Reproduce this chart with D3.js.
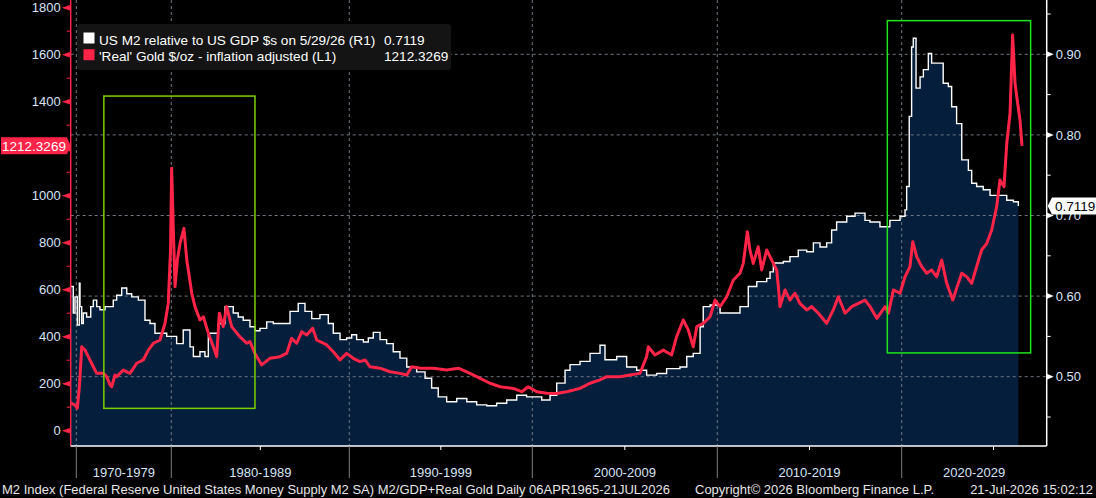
<!DOCTYPE html>
<html>
<head>
<meta charset="utf-8">
<script src="https://cdn.jsdelivr.net/npm/d3@7"></script>
<style>
html, body { margin: 0; padding: 0; background: #000; }
svg { display: block; font-family: "Liberation Sans", Arial, sans-serif; }
</style>
</head>
<body>
<div id="chart"></div>
<script>
// frame of the bloomberg-style chart
const FRAME_WIDTH = 1096;
const FRAME_HEIGHT = 498;
const PLOT = {left: 70.7, right: 1046.7, top: 0, bottom: 446};

// x axis is not linear in time (early data is sparse), so knots per decade
const xKnotYears = [1965.26, 1970, 1980, 1990, 2000, 2010, 2020, 2026.55];
const xKnotPix   = [70.7, 76.3, 171.3, 349.3, 532.3, 717.3, 901.7, 1022];

const decadeBreaks = [1970, 1980, 1990, 2000, 2010, 2020];
const decadeLabels = ["1970-1979", "1980-1989", "1990-1999", "2000-2009", "2010-2019", "2020-2029"];
const halfDecades = [1985, 1995, 2005, 2015, 2025];

const leftTicks = [0, 200, 400, 600, 800, 1000, 1200, 1400, 1600, 1800];
const leftLabelTicks = [0, 200, 400, 600, 800, 1000, 1400, 1600, 1800]; // 1200 sits under the last-value flag
const rightTicks = [0.5, 0.6, 0.7, 0.8, 0.9];

// US M2 / GDP (right axis), quarterly steps
const m2Years = [1965.26, 1966.11, 1967.46, 1968.90, 1970.11, 1970.32, 1970.39, 1970.57, 1970.74, 1971.09,
  1971.52, 1971.79, 1972.15, 1972.49, 1973.02, 1973.55, 1973.89, 1974.25, 1974.78, 1975.31,
  1975.83, 1976.53, 1977.05, 1977.23, 1977.76, 1978.28, 1978.81, 1979.52, 1980.02, 1980.30,
  1980.67, 1980.96, 1981.05, 1981.24, 1981.61, 1981.89, 1982.08, 1982.36, 1982.64, 1983.02,
  1983.30, 1983.48, 1983.76, 1984.04, 1984.42, 1984.70, 1984.98, 1985.36, 1985.73, 1986.29,
  1986.67, 1987.13, 1987.51, 1987.89, 1988.35, 1988.82, 1989.10, 1989.48, 1989.85, 1990.13,
  1990.40, 1990.77, 1991.04, 1991.31, 1991.68, 1992.04, 1992.40, 1992.77, 1993.14, 1993.68,
  1994.14, 1994.50, 1994.86, 1995.32, 1995.87, 1996.42, 1996.96, 1997.51, 1998.05, 1998.60,
  1999.15, 1999.69, 2000.05, 2000.51, 2000.96, 2001.32, 2001.77, 2002.04, 2002.58, 2003.12,
  2003.66, 2003.93, 2004.56, 2005.10, 2005.64, 2006.18, 2006.72, 2007.26, 2007.98, 2008.35,
  2008.70, 2009.07, 2009.24, 2009.61, 2010.15, 2010.87, 2011.23, 2011.68, 2012.14, 2012.68,
  2012.86, 2013.04, 2013.58, 2013.94, 2014.39, 2014.85, 2015.21, 2015.57, 2015.93, 2016.20,
  2016.47, 2017.02, 2017.47, 2017.83, 2018.01, 2018.28, 2018.82, 2019.36, 2019.91, 2020.18,
  2020.27, 2020.41, 2020.54, 2020.63, 2020.78, 2021.00, 2021.18, 2021.45, 2021.63, 2021.99,
  2022.26, 2022.54, 2022.72, 2022.99, 2023.27, 2023.63, 2023.81, 2024.08, 2024.44, 2024.81,
  2025.35, 2025.72, 2026.08, 2026.35];
const m2Ratio = [0.612, 0.612, 0.579, 0.599, 0.564, 0.616, 0.587, 0.566, 0.579, 0.574,
  0.587, 0.595, 0.587, 0.583, 0.587, 0.587, 0.595, 0.601, 0.610, 0.603,
  0.599, 0.595, 0.595, 0.570, 0.566, 0.554, 0.554, 0.550, 0.550, 0.541,
  0.558, 0.558, 0.537, 0.525, 0.531, 0.525, 0.554, 0.554, 0.566, 0.587,
  0.587, 0.579, 0.574, 0.570, 0.562, 0.557, 0.560, 0.568, 0.566, 0.566,
  0.581, 0.591, 0.581, 0.572, 0.577, 0.566, 0.554, 0.546, 0.548, 0.552,
  0.546, 0.543, 0.548, 0.555, 0.546, 0.541, 0.531, 0.523, 0.512, 0.506,
  0.498, 0.486, 0.475, 0.469, 0.473, 0.469, 0.465, 0.464, 0.467, 0.471,
  0.477, 0.475, 0.475, 0.471, 0.477, 0.492, 0.508, 0.515, 0.519, 0.529,
  0.539, 0.521, 0.525, 0.512, 0.508, 0.502, 0.504, 0.510, 0.512, 0.525,
  0.529, 0.562, 0.587, 0.589, 0.579, 0.579, 0.587, 0.612, 0.618, 0.622,
  0.630, 0.641, 0.643, 0.649, 0.657, 0.655, 0.666, 0.661, 0.666, 0.682,
  0.692, 0.699, 0.703, 0.703, 0.694, 0.692, 0.686, 0.694, 0.699, 0.707,
  0.736, 0.823, 0.909, 0.920, 0.858, 0.872, 0.881, 0.901, 0.889, 0.889,
  0.864, 0.860, 0.835, 0.814, 0.769, 0.756, 0.740, 0.736, 0.732, 0.725,
  0.725, 0.719, 0.717, 0.7119];

// 'Real' gold $/oz, inflation adjusted (left axis)
const goldYears = [1965.26, 1966.11, 1968.90, 1970.11, 1970.32, 1970.39, 1970.57, 1970.92, 1971.26, 1971.79,
  1972.15, 1972.49, 1972.84, 1973.20, 1973.55, 1973.73, 1974.07, 1974.25, 1974.60, 1974.95,
  1975.65, 1976.36, 1977.05, 1977.58, 1978.11, 1978.81, 1979.34, 1979.68, 1979.92, 1980.02,
  1980.11, 1980.21, 1980.34, 1980.49, 1980.71, 1980.87, 1981.15, 1981.33, 1981.61, 1981.80,
  1982.08, 1982.36, 1982.55, 1982.70, 1982.92, 1983.11, 1983.39, 1983.86, 1984.24, 1984.42,
  1984.70, 1985.08, 1985.54, 1986.10, 1986.48, 1986.76, 1987.04, 1987.33, 1987.61, 1987.94,
  1988.17, 1988.73, 1989.10, 1989.48, 1989.85, 1990.22, 1990.58, 1990.86, 1991.13, 1991.68,
  1992.22, 1992.77, 1993.14, 1993.41, 1993.87, 1994.59, 1995.32, 1995.96, 1996.60, 1997.15,
  1997.69, 1998.24, 1998.96, 1999.42, 1999.78, 2000.24, 2000.78, 2001.32, 2001.86, 2002.58,
  2003.12, 2003.66, 2004.02, 2004.74, 2005.28, 2005.82, 2006.18, 2006.27, 2006.63, 2007.08,
  2007.53, 2007.80, 2008.16, 2008.43, 2008.70, 2008.89, 2009.24, 2009.61, 2009.88, 2010.15,
  2010.51, 2010.87, 2011.23, 2011.41, 2011.63, 2011.77, 2011.95, 2012.22, 2012.41, 2012.68,
  2012.95, 2013.22, 2013.31, 2013.40, 2013.67, 2013.94, 2014.21, 2014.48, 2014.85, 2015.12,
  2015.48, 2015.93, 2016.29, 2016.56, 2016.93, 2017.29, 2017.65, 2018.01, 2018.28, 2018.65,
  2019.10, 2019.28, 2019.55, 2019.91, 2020.18, 2020.45, 2020.60, 2020.82, 2021.09, 2021.36,
  2021.63, 2021.90, 2022.18, 2022.45, 2022.78, 2023.08, 2023.27, 2023.54, 2023.81, 2024.08,
  2024.35, 2024.63, 2024.90, 2025.17, 2025.35, 2025.57, 2025.72, 2025.90, 2026.04, 2026.17,
  2026.29, 2026.44, 2026.55];
const goldReal = [117, 117, 109, 95, 187, 230, 357, 343, 315, 272,
  244, 244, 244, 230, 195, 187, 237, 230, 244, 258,
  244, 287, 301, 343, 372, 386, 457, 542, 769, 1117,
  868, 613, 726, 797, 861, 726, 585, 528, 471, 485,
  415, 357, 315, 500, 443, 528, 443, 399, 372, 379,
  329, 280, 308, 315, 329, 393, 372, 421, 407, 436,
  386, 365, 336, 301, 329, 308, 294, 301, 272, 266,
  251, 244, 237, 272, 266, 266, 258, 266, 244, 223,
  202, 187, 180, 166, 187, 166, 159, 158, 166, 180,
  202, 216, 230, 230, 237, 244, 315, 357, 322, 343,
  322, 400, 471, 429, 357, 443, 457, 485, 556, 528,
  570, 641, 670, 712, 847, 769, 712, 783, 684, 769,
  726, 684, 613, 528, 599, 556, 585, 542, 514, 528,
  500, 457, 514, 570, 500, 528, 542, 556, 528, 478,
  528, 500, 599, 585, 655, 698, 804, 740, 698, 670,
  684, 655, 726, 627, 556, 627, 670, 655, 627, 698,
  769, 797, 854, 953, 1067, 1038, 1223, 1351, 1684, 1478,
  1407, 1322, 1212.3269];

// highlight boxes: [year from, year to], [left value from, to]
const boxYears = [[1972.9, 1984.7], [2019.22, 2027.02]];
const boxValues = [[95, 1424], [331, 1745]];
const boxColors = ["#7ccf00", "#1fe41f"];

const legendNames = ["US M2 relative to US GDP $s on 5/29/26 (R1)", "'Real' Gold $/oz - inflation adjusted (L1)"];
const legendValues = ["0.7119", "1212.3269"];

const RED = "#ff2448";
const LABEL = "#d6e4f7";

const m2Data = m2Years.map((y, i) => ({year: y, v: m2Ratio[i]}));
const goldData = goldYears.map((y, i) => ({year: y, v: goldReal[i]}));

const svg = d3.select("#chart")
  .append("svg")
  .attr("width", FRAME_WIDTH)
  .attr("height", FRAME_HEIGHT);

svg.append("rect").attr("width", FRAME_WIDTH).attr("height", FRAME_HEIGHT).attr("fill", "#000");

// scales
const X_SCALE = d3.scaleLinear().domain(xKnotYears).range(xKnotPix);
const Y_LEFT = d3.scaleLinear().domain([0, 1800]).range([430.7, 7.7]);
const Y_RIGHT = d3.scaleLinear().domain([0.5, 0.9]).range([376.7, 54.3]);

// filled area under the M2/GDP line
const m2Area = d3.area()
  .x(d => X_SCALE(d.year))
  .y0(PLOT.bottom)
  .y1(d => Y_RIGHT(d.v))
  .curve(d3.curveStepAfter);

svg.append("path").datum(m2Data)
  .attr("d", m2Area)
  .attr("fill", "#051e3b");

// gridlines (dashed) on top of the fill
svg.append("g").selectAll("line")
  .data(rightTicks)
  .enter().append("line")
  .attr("x1", PLOT.left).attr("x2", PLOT.right)
  .attr("y1", d => Y_RIGHT(d)).attr("y2", d => Y_RIGHT(d))
  .attr("stroke", "#6f7782").attr("stroke-width", 1)
  .attr("stroke-dasharray", "3,3");

svg.append("g").selectAll("line")
  .data(decadeBreaks)
  .enter().append("line")
  .attr("x1", d => X_SCALE(d)).attr("x2", d => X_SCALE(d))
  .attr("y1", PLOT.top).attr("y2", PLOT.bottom)
  .attr("stroke", "#6f7782").attr("stroke-width", 1)
  .attr("stroke-dasharray", "3,3");

// white M2/GDP step line
const m2Line = d3.line()
  .x(d => X_SCALE(d.year))
  .y(d => Y_RIGHT(d.v))
  .curve(d3.curveStepAfter);

svg.append("path").datum(m2Data)
  .attr("d", m2Line)
  .attr("fill", "none")
  .attr("stroke", "#ffffff")
  .attr("stroke-width", 1.4);

// red real gold line
const goldLine = d3.line()
  .x(d => X_SCALE(d.year))
  .y(d => Y_LEFT(d.v));

svg.append("path").datum(goldData)
  .attr("d", goldLine)
  .attr("fill", "none")
  .attr("stroke", RED)
  .attr("stroke-width", 3)
  .attr("stroke-linejoin", "round");

// highlight boxes
svg.append("g").selectAll("rect")
  .data(boxYears)
  .enter().append("rect")
  .attr("x", d => X_SCALE(d[0]))
  .attr("width", d => X_SCALE(d[1]) - X_SCALE(d[0]))
  .attr("y", (d, i) => Y_LEFT(boxValues[i][1]))
  .attr("height", (d, i) => Y_LEFT(boxValues[i][0]) - Y_LEFT(boxValues[i][1]))
  .attr("fill", "none")
  .attr("stroke", (d, i) => boxColors[i])
  .attr("stroke-width", 1.5);

// left axis (red)
const leftAxis = svg.append("g")
  .attr("transform", "translate(" + PLOT.left + ",0)")
  .call(d3.axisLeft(Y_LEFT).tickValues(leftLabelTicks).tickSize(0).tickPadding(10).tickFormat(d3.format("d")));
leftAxis.select(".domain").remove();
leftAxis.selectAll("text")
  .attr("fill", LABEL).attr("font-size", "13px")
  .attr("font-family", "Liberation Sans, Arial, sans-serif");

svg.append("g").selectAll("path")
  .data(leftTicks)
  .enter().append("path")
  .attr("d", d => "M" + PLOT.left + "," + (Y_LEFT(d) - 3) + " L" + (PLOT.left - 9) + "," + Y_LEFT(d) + " L" + PLOT.left + "," + (Y_LEFT(d) + 3) + "Z")
  .attr("fill", RED);

svg.append("g").selectAll("line")
  .data(d3.range(100, 1800, 200))
  .enter().append("line")
  .attr("x1", PLOT.left - 4).attr("x2", PLOT.left)
  .attr("y1", d => Y_LEFT(d)).attr("y2", d => Y_LEFT(d))
  .attr("stroke", RED).attr("stroke-width", 1);

svg.append("line")
  .attr("x1", PLOT.left).attr("x2", PLOT.left)
  .attr("y1", PLOT.top).attr("y2", PLOT.bottom)
  .attr("stroke", RED).attr("stroke-width", 1.5);

// right axis (white)
const rightAxis = svg.append("g")
  .attr("transform", "translate(" + PLOT.right + ",0)")
  .call(d3.axisRight(Y_RIGHT).tickValues(rightTicks).tickSize(0).tickPadding(9).tickFormat(d3.format(".2f")));
rightAxis.select(".domain").remove();
rightAxis.selectAll("text")
  .attr("fill", LABEL).attr("font-size", "13px")
  .attr("font-family", "Liberation Sans, Arial, sans-serif");

svg.append("g").selectAll("path")
  .data(rightTicks)
  .enter().append("path")
  .attr("d", d => "M" + PLOT.right + "," + (Y_RIGHT(d) - 3) + " L" + (PLOT.right + 7) + "," + Y_RIGHT(d) + " L" + PLOT.right + "," + (Y_RIGHT(d) + 3) + "Z")
  .attr("fill", "#fff");

svg.append("g").selectAll("line")
  .data([0.45, 0.55, 0.65, 0.75, 0.85, 0.95])
  .enter().append("line")
  .attr("x1", PLOT.right).attr("x2", PLOT.right + 4)
  .attr("y1", d => Y_RIGHT(d)).attr("y2", d => Y_RIGHT(d))
  .attr("stroke", "#fff").attr("stroke-width", 1);

svg.append("line")
  .attr("x1", PLOT.right).attr("x2", PLOT.right)
  .attr("y1", PLOT.top).attr("y2", PLOT.bottom)
  .attr("stroke", "#fff").attr("stroke-width", 1.5);

// bottom axis
svg.append("line")
  .attr("x1", PLOT.left).attr("x2", PLOT.right)
  .attr("y1", PLOT.bottom).attr("y2", PLOT.bottom)
  .attr("stroke", "#fff").attr("stroke-width", 1.5);

svg.append("g").selectAll("line")
  .data(decadeBreaks)
  .enter().append("line")
  .attr("x1", d => X_SCALE(d)).attr("x2", d => X_SCALE(d))
  .attr("y1", PLOT.bottom).attr("y2", 478)
  .attr("stroke", "#7d7d7d").attr("stroke-width", 1);

svg.append("g").selectAll("line")
  .data(halfDecades)
  .enter().append("line")
  .attr("x1", d => X_SCALE(d)).attr("x2", d => X_SCALE(d))
  .attr("y1", PLOT.bottom).attr("y2", PLOT.bottom + 4)
  .attr("stroke", "#fff").attr("stroke-width", 1);

svg.append("g").selectAll("text")
  .data(decadeLabels)
  .enter().append("text")
  .attr("x", (d, i) => (X_SCALE(decadeBreaks[i]) + Math.min(PLOT.right, X_SCALE(decadeBreaks[i] + 10))) / 2)
  .attr("y", 476.5)
  .attr("text-anchor", "middle")
  .attr("fill", LABEL)
  .attr("font-size", "13px")
  .text(d => d);

// legend
const legend = svg.append("g");
legend.append("rect")
  .attr("x", 77).attr("y", 24).attr("width", 374).attr("height", 46)
  .attr("rx", 3).attr("fill", "#141414");
legend.selectAll(".swatch")
  .data(legendNames)
  .enter().append("rect")
  .attr("x", 83.5).attr("y", (d, i) => 32.5 + i * 16.7)
  .attr("width", 11).attr("height", 11)
  .attr("fill", (d, i) => i === 0 ? "#fff" : RED);
legend.selectAll(".name")
  .data(legendNames)
  .enter().append("text")
  .attr("x", 99).attr("y", (d, i) => 44.5 + i * 16.2)
  .attr("fill", "#fff").attr("font-size", "13.6px")
  .text(d => d);
legend.selectAll(".val")
  .data(legendValues)
  .enter().append("text")
  .attr("x", 384).attr("y", (d, i) => 44.5 + i * 16.2)
  .attr("fill", "#fff").attr("font-size", "13.6px")
  .text(d => d);

// last value flags
const lastGold = goldReal[goldReal.length - 1];
const gy = Y_LEFT(lastGold);
svg.append("path")
  .attr("d", "M1," + (gy - 8.5) + " L67," + (gy - 8.5) + " L70.7," + gy + " L67," + (gy + 8.5) + " L1," + (gy + 8.5) + "Z")
  .attr("fill", RED);
svg.append("text")
  .attr("x", 34).attr("y", gy + 4.8)
  .attr("text-anchor", "middle")
  .attr("fill", "#fff").attr("font-size", "13.5px")
  .text(d3.format(".4f")(lastGold));

const lastM2 = m2Ratio[m2Ratio.length - 1];
const my = Y_RIGHT(lastM2);
svg.append("path")
  .attr("d", "M" + (PLOT.right + 1) + "," + my + " L1052," + (my - 8.5) + " L1096," + (my - 8.5) + " L1096," + (my + 8.5) + " L1052," + (my + 8.5) + "Z")
  .attr("fill", "#fff");
svg.append("text")
  .attr("x", 1055).attr("y", my + 4.8)
  .attr("fill", "#000").attr("font-size", "13.5px")
  .text(d3.format(".4f")(lastM2));

// footer
const footer = svg.append("g").attr("fill", "#e6e6e6").attr("font-size", "13px");
footer.append("text").attr("x", 2).attr("y", 494)
  .text("M2 Index (Federal Reserve United States Money Supply M2 SA) M2/GDP+Real Gold Daily 06APR1965-21JUL2026");
footer.append("text").attr("x", 695).attr("y", 494)
  .text("Copyright\u00A9 2026 Bloomberg Finance L.P.");
footer.append("text").attr("x", 1093).attr("y", 494).attr("text-anchor", "end")
  .text("21-Jul-2026 15:02:12");
</script>
</body>
</html>
